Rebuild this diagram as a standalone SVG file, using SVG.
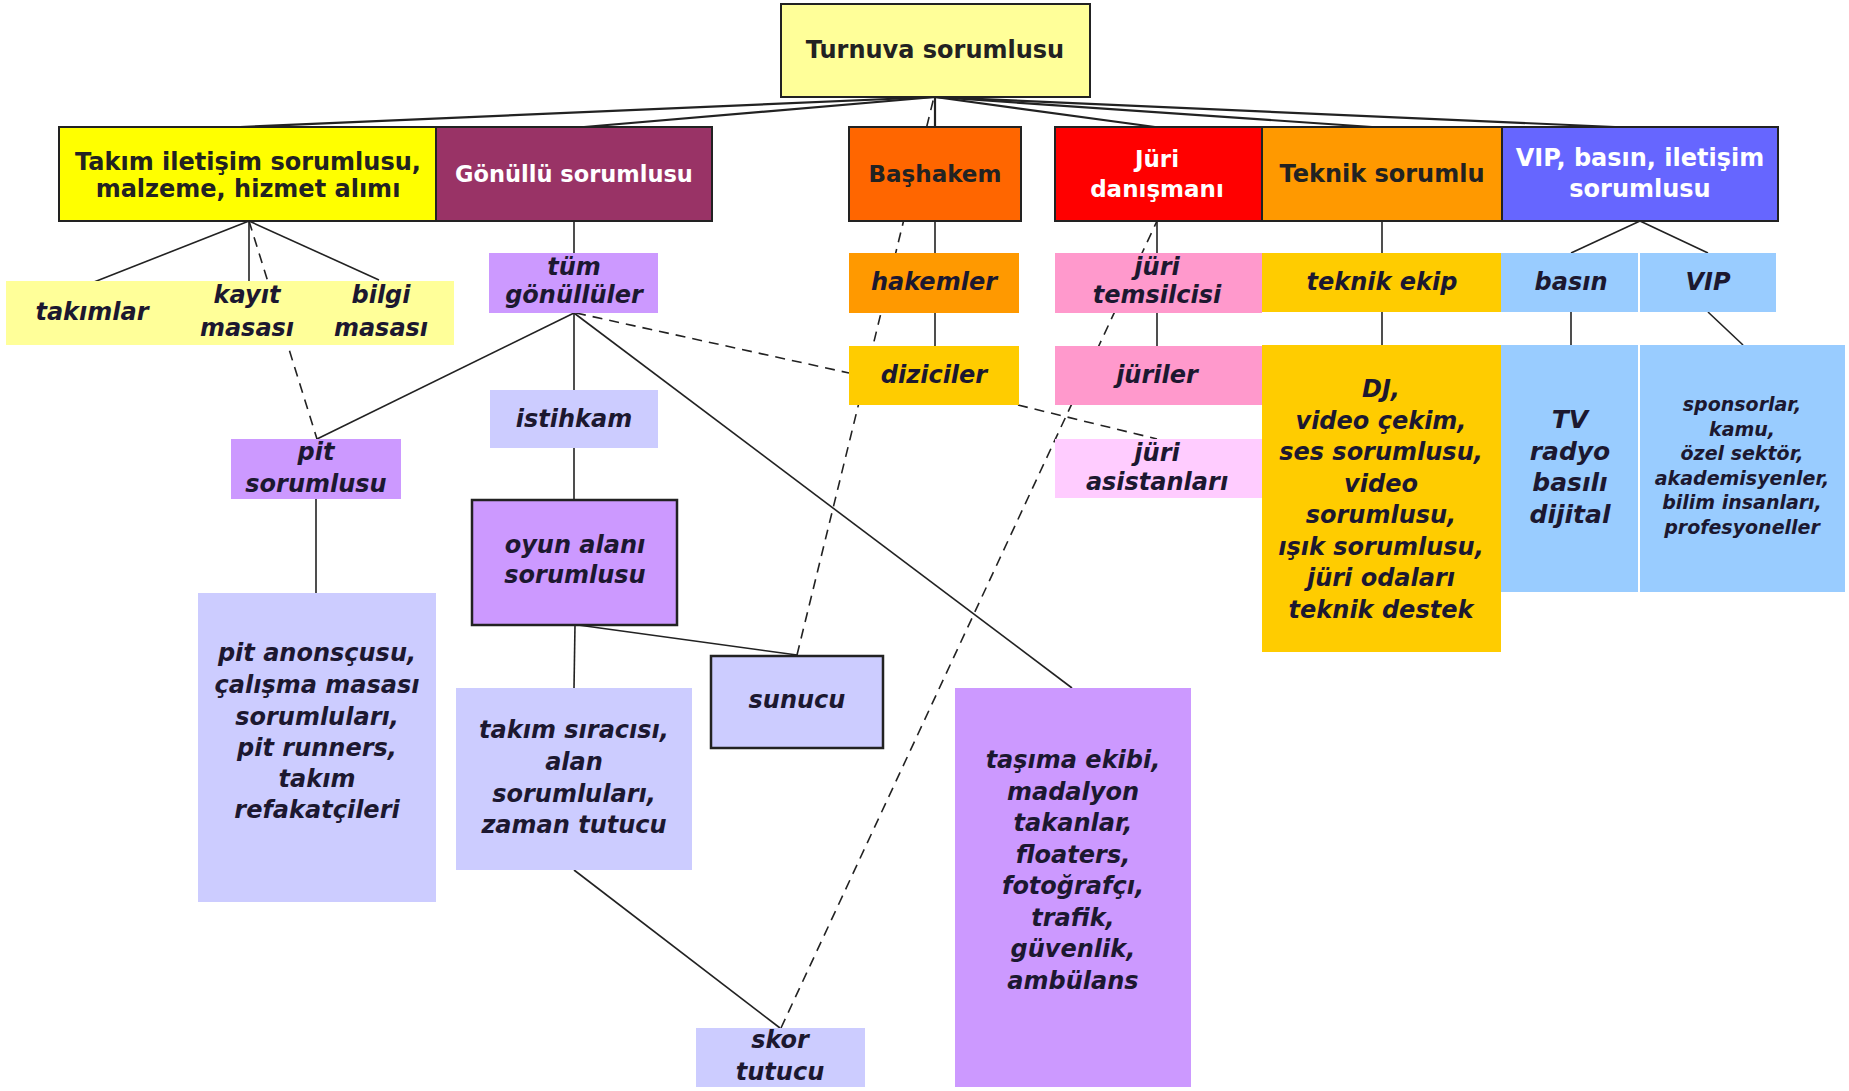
<svg xmlns="http://www.w3.org/2000/svg" width="1849" height="1091" viewBox="0 0 1849 1091">
<style>
text{font-family:"DejaVu Sans","Liberation Sans",sans-serif;font-weight:bold;text-anchor:middle}
.h{font-size:24px;fill:#222}
.w{fill:#fff}
.i{font-size:24px;font-style:italic;fill:#1c1830}
.s{font-size:19px}
.b{stroke:#222;stroke-width:2}
.bb{stroke:#222;stroke-width:2.5}
.ln{stroke:#222;stroke-width:1.6;fill:none}
.rl{stroke:#222;stroke-width:2.2;fill:none}
.d{stroke-dasharray:10 7}
</style>
<rect width="1849" height="1091" fill="#fff"/>
<g id="connectors">
<line class="rl" x1="935" y1="97" x2="240" y2="127"/>
<line class="rl" x1="935" y1="97" x2="584" y2="127"/>
<line class="rl" x1="935" y1="97" x2="935" y2="127"/>
<line class="rl" x1="935" y1="97" x2="1155" y2="127"/>
<line class="rl" x1="935" y1="97" x2="1372" y2="127"/>
<line class="rl" x1="935" y1="97" x2="1615" y2="127"/>
<line class="ln" x1="249" y1="221" x2="94" y2="282"/>
<line class="ln" x1="249" y1="221" x2="249" y2="282"/>
<line class="ln" x1="249" y1="221" x2="379" y2="280"/>
<line class="ln" x1="574" y1="221" x2="574" y2="253"/>
<line class="ln" x1="574" y1="313" x2="317" y2="439"/>
<line class="ln" x1="574" y1="313" x2="574" y2="390"/>
<line class="ln" x1="574" y1="313" x2="1072" y2="688"/>
<line class="ln" x1="574" y1="448" x2="574" y2="500"/>
<line class="ln" x1="575" y1="625" x2="574" y2="688"/>
<line class="ln" x1="578" y1="625" x2="797" y2="655"/>
<line class="ln" x1="574" y1="870" x2="780" y2="1028"/>
<line class="ln" x1="316" y1="498" x2="316" y2="593"/>
<line class="ln" x1="935" y1="221" x2="935" y2="253"/>
<line class="ln" x1="935" y1="313" x2="935" y2="346"/>
<line class="ln" x1="1157" y1="221" x2="1157" y2="253"/>
<line class="ln" x1="1157" y1="313" x2="1157" y2="346"/>
<line class="ln" x1="1382" y1="221" x2="1382" y2="253"/>
<line class="ln" x1="1382" y1="312" x2="1382" y2="345"/>
<line class="ln" x1="1640" y1="221" x2="1571" y2="253"/>
<line class="ln" x1="1640" y1="221" x2="1708" y2="253"/>
<line class="ln" x1="1571" y1="312" x2="1571" y2="345"/>
<line class="ln" x1="1708" y1="312" x2="1743" y2="345"/>
<line class="ln d" x1="249" y1="221" x2="317" y2="439"/>
<line class="ln d" x1="576" y1="313" x2="849" y2="373"/>
<line class="ln d" x1="797" y1="655" x2="934" y2="97"/>
<line class="ln d" x1="781" y1="1028" x2="1157" y2="221"/>
<line class="ln d" x1="1018" y1="405" x2="1157" y2="439"/>
</g>
<g id="root"><rect class="b" x="781" y="4" width="309" height="93" fill="#FFFF99"/><text class="h" x="935" y="58" font-size="23.5">Turnuva sorumlusu</text></g>
<g id="takim"><rect class="b" x="59" y="127" width="377" height="94" fill="#FFFF00"/><text class="h" x="248" y="170">Takım iletişim sorumlusu,</text><text class="h" x="248" y="197">malzeme, hizmet alımı</text></g>
<g id="gonullu"><rect class="b" x="436" y="127" width="276" height="94" fill="#993366"/><text class="h w" x="574" y="182" style="font-size:22.5px">Gönüllü sorumlusu</text></g>
<g id="bashakem"><rect class="b" x="849" y="127" width="172" height="94" fill="#FF6600"/><text class="h" x="935" y="182" style="font-size:23px">Başhakem</text></g>
<g id="juri-danismani"><rect class="b" x="1055" y="127" width="207" height="94" fill="#FF0000"/><text class="h w" x="1157" y="167" style="font-size:23px">Jüri</text><text class="h w" x="1157" y="197" style="font-size:23px">danışmanı</text></g>
<g id="teknik"><rect class="b" x="1262" y="127" width="240" height="94" fill="#FF9900"/><text class="h" x="1382" y="182">Teknik sorumlu</text></g>
<g id="vip-basin"><rect class="b" x="1502" y="127" width="276" height="94" fill="#6666FF"/><text class="h w" x="1640" y="166">VIP, basın, iletişim</text><text class="h w" x="1640" y="197">sorumlusu</text></g>
<g id="takimlar"><rect x="6" y="281" width="176" height="64" fill="#FFFF99"/><text class="i" x="92" y="320">takımlar</text></g>
<g id="kayit"><rect x="182" y="281" width="132" height="64" fill="#FFFF99"/><text class="i" x="247" y="303">kayıt</text><text class="i" x="247" y="336">masası</text></g>
<g id="bilgi"><rect x="314" y="281" width="140" height="64" fill="#FFFF99"/><text class="i" x="381" y="303">bilgi</text><text class="i" x="381" y="336">masası</text></g>
<g id="tum-gonulluler"><rect x="489" y="253" width="169" height="60" fill="#CC99FF"/><text class="i" x="574" y="275">tüm</text><text class="i" x="574" y="303">gönüllüler</text></g>
<g id="hakemler"><rect x="849" y="253" width="170" height="60" fill="#FF9900"/><text class="i" x="934" y="290">hakemler</text></g>
<g id="juri-temsilcisi"><rect x="1055" y="253" width="207" height="60" fill="#FF99CC"/><text class="i" x="1157" y="275">jüri</text><text class="i" x="1157" y="303">temsilcisi</text></g>
<g id="teknik-ekip"><rect x="1262" y="253" width="239" height="59" fill="#FFCC00"/><text class="i" x="1382" y="290">teknik ekip</text></g>
<g id="basin"><rect x="1501" y="253" width="137" height="59" fill="#99CCFF"/><text class="i" x="1571" y="290">basın</text></g>
<g id="vip"><rect x="1640" y="253" width="136" height="59" fill="#99CCFF"/><text class="i" x="1708" y="290">VIP</text></g>
<g id="diziciler"><rect x="849" y="346" width="170" height="59" fill="#FFCC00"/><text class="i" x="934" y="383">diziciler</text></g>
<g id="juriler"><rect x="1055" y="346" width="207" height="59" fill="#FF99CC"/><text class="i" x="1157" y="383">jüriler</text></g>
<g id="juri-asistanlari"><rect x="1055" y="439" width="207" height="59" fill="#FFCCFF"/><text class="i" x="1157" y="461">jüri</text><text class="i" x="1157" y="490">asistanları</text></g>
<g id="teknik-detay"><rect x="1262" y="345" width="239" height="307" fill="#FFCC00"/>
<text class="i" x="1381" y="397">DJ,</text><text class="i" x="1381" y="428.5">video çekim,</text><text class="i" x="1381" y="460">ses sorumlusu,</text><text class="i" x="1381" y="491.5">video</text><text class="i" x="1381" y="523">sorumlusu,</text><text class="i" x="1381" y="554.5">ışık sorumlusu,</text><text class="i" x="1381" y="586">jüri odaları</text><text class="i" x="1381" y="617.5">teknik destek</text></g>
<g id="medya"><rect x="1501" y="345" width="137" height="247" fill="#99CCFF"/>
<text class="i" x="1570" y="428" style="font-size:25px">TV</text><text class="i" x="1570" y="459.5" style="font-size:25px">radyo</text><text class="i" x="1570" y="491" style="font-size:25px">basılı</text><text class="i" x="1570" y="522.5" style="font-size:25px">dijital</text></g>
<g id="vip-detay"><rect x="1640" y="345" width="205" height="247" fill="#99CCFF"/>
<text class="i s" x="1742" y="411">sponsorlar,</text><text class="i s" x="1742" y="436">kamu,</text><text class="i s" x="1742" y="460">özel sektör,</text><text class="i s" x="1742" y="485">akademisyenler,</text><text class="i s" x="1742" y="509">bilim insanları,</text><text class="i s" x="1742" y="534">profesyoneller</text></g>
<g id="pit-sorumlusu"><rect x="231" y="439" width="170" height="60" fill="#CC99FF"/><text class="i" x="316" y="460">pit</text><text class="i" x="316" y="492">sorumlusu</text></g>
<g id="istihkam"><rect x="490" y="390" width="168" height="58" fill="#CCCCFF"/><text class="i" x="574" y="427">istihkam</text></g>
<g id="oyun-alani"><rect class="bb" x="472" y="500" width="205" height="125" fill="#CC99FF"/><text class="i" x="575" y="553">oyun alanı</text><text class="i" x="575" y="583">sorumlusu</text></g>
<g id="sunucu"><rect class="bb" x="711" y="656" width="172" height="92" fill="#CCCCFF"/><text class="i" x="797" y="708">sunucu</text></g>
<g id="pit-detay"><rect x="198" y="593" width="238" height="309" fill="#CCCCFF"/>
<text class="i" x="317" y="661">pit anonsçusu,</text><text class="i" x="317" y="693">çalışma masası</text><text class="i" x="317" y="725">sorumluları,</text><text class="i" x="317" y="756">pit runners,</text><text class="i" x="317" y="787">takım</text><text class="i" x="317" y="818">refakatçileri</text></g>
<g id="takim-siracisi"><rect x="456" y="688" width="236" height="182" fill="#CCCCFF"/>
<text class="i" x="574" y="738">takım sıracısı,</text><text class="i" x="574" y="770">alan</text><text class="i" x="574" y="802">sorumluları,</text><text class="i" x="574" y="833">zaman tutucu</text></g>
<g id="skor-tutucu"><rect x="696" y="1028" width="169" height="59" fill="#CCCCFF"/><text class="i" x="780" y="1048">skor</text><text class="i" x="780" y="1080">tutucu</text></g>
<g id="tasima"><rect x="955" y="688" width="236" height="399" fill="#CC99FF"/>
<text class="i" x="1073" y="768">taşıma ekibi,</text><text class="i" x="1073" y="799.5">madalyon</text><text class="i" x="1073" y="831">takanlar,</text><text class="i" x="1073" y="862.5">floaters,</text><text class="i" x="1073" y="894">fotoğrafçı,</text><text class="i" x="1073" y="925.5">trafik,</text><text class="i" x="1073" y="957">güvenlik,</text><text class="i" x="1073" y="988.5">ambülans</text></g>
</svg>
